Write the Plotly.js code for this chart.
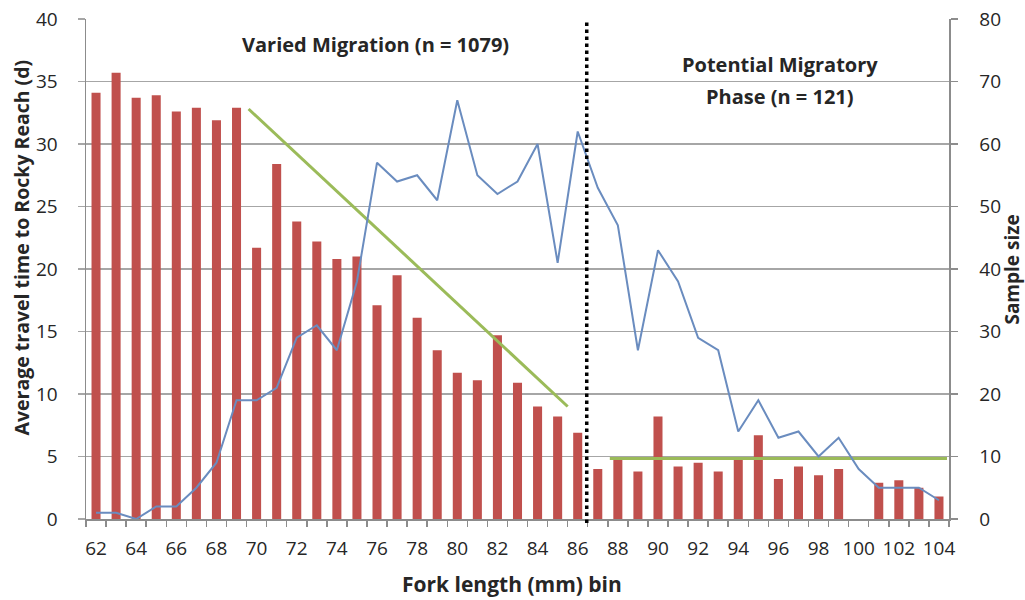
<!DOCTYPE html>
<html>
<head>
<meta charset="utf-8">
<script src="https://cdn.plot.ly/plotly-3.0.1.min.js"></script>
<style>html,body{margin:0;padding:0;background:#fff;}#chart{width:1025px;height:600px;}</style>
</head>
<body>
<div id="chart"></div>
<script>
const bins = [62,63,64,65,66,67,68,69,70,71,72,73,74,75,76,77,78,79,80,81,82,83,84,85,86,87,88,89,90,91,92,93,94,95,96,97,98,99,100,101,102,103,104];
const travelTime = [34.1,35.7,33.7,33.9,32.6,32.9,31.9,32.9,21.7,28.4,23.8,22.2,20.8,21.0,17.1,19.5,16.1,13.5,11.7,11.1,14.7,10.9,9.0,8.2,6.9,4.0,4.8,3.8,8.2,4.2,4.5,3.8,4.8,6.7,3.2,4.2,3.5,4.0,null,2.9,3.1,2.5,1.8];
const sampleSize = [1,1,0,2,2,5,9,19,19,21,29,31,27,38,57,54,55,51,67,55,52,54,60,41,62,53,47,27,43,38,29,27,14,19,13,14,10,13,8,5,5,5,3];
const trendVariedX = [69.6, 85.5];
const trendVariedY = [32.8, 9.0];
const trendPotentialX = [87.6, 104.4];
const trendPotentialY = [4.85, 4.85];
const dividerX = 86.45;
const xTickVals = [62,64,66,68,70,72,74,76,78,80,82,84,86,88,90,92,94,96,98,100,102,104];
const leftTicks = [0,5,10,15,20,25,30,35,40];
const rightTicks = [0,10,20,30,40,50,60,70,80];

const FONT = '"Open Sans", "DejaVu Sans", sans-serif';
const TXT = '#262626';

const traces = [
  {type:'bar', x:bins, y:travelTime, marker:{color:'#c0504d'}, width:0.45, yaxis:'y', hoverinfo:'skip'},
  {type:'scatter', mode:'lines', x:bins, y:sampleSize, yaxis:'y2', line:{color:'#6a8cbf', width:2}, hoverinfo:'skip'},
  {type:'scatter', mode:'lines', x:trendVariedX, y:trendVariedY, yaxis:'y', line:{color:'#9bbb59', width:3}, hoverinfo:'skip'},
  {type:'scatter', mode:'lines', x:trendPotentialX, y:trendPotentialY, yaxis:'y', line:{color:'#9bbb59', width:3}, hoverinfo:'skip'}
];

const ann = (o) => Object.assign({showarrow:false, xanchor:'center', yanchor:'middle'}, o);

const layout = {
  width:1025, height:600,
  margin:{l:86, r:76, t:19, b:81},
  paper_bgcolor:'#fff', plot_bgcolor:'#fff',
  showlegend:false,
  font:{family:FONT, color:TXT},
  xaxis:{
    range:[61.5,104.5], tickmode:'array', tickvals:xTickVals, ticktext:xTickVals.map(String),
    ticks:'', showgrid:false, zeroline:false,
    showline:true, linecolor:'#8c8c8c', linewidth:1.5,
    tickfont:{size:19, color:TXT}, ticklabelstandoff:12,
    minor:{tick0:61.5, dtick:1, ticks:'outside', ticklen:6, tickcolor:'#8c8c8c', tickwidth:1.5, showgrid:false}
  },
  yaxis:{
    range:[0,40], tickmode:'array', tickvals:leftTicks,
    showgrid:true, gridcolor:'#a6a6a6', gridwidth:1.5, zeroline:false,
    showline:true, linecolor:'#8c8c8c', linewidth:1.5,
    ticks:'outside', ticklen:7, tickcolor:'#a6a6a6', tickwidth:1.5,
    tickfont:{size:19, color:TXT}, ticklabelstandoff:16
  },
  yaxis2:{
    range:[0,80], overlaying:'y', side:'right', tickmode:'array', tickvals:rightTicks,
    showgrid:false, zeroline:false,
    showline:true, linecolor:'#8c8c8c', linewidth:1.5,
    ticks:'outside', ticklen:7, tickcolor:'#8c8c8c', tickwidth:1.5,
    tickfont:{size:19, color:TXT}, ticklabelstandoff:18
  },
  shapes:[
    {type:'line', xref:'x', yref:'paper', x0:dividerX, x1:dividerX, y0:-0.008, y1:0.994,
     line:{color:'#000', width:3.5, dash:'dot'}}
  ],
  annotations:[
    ann({xref:'x', yref:'paper', x:75.9, y:0.95, text:'<b>Varied Migration (n = 1079)</b>', font:{size:20, color:TXT}}),
    ann({xref:'x', yref:'paper', x:96.1, y:0.908, text:'<b>Potential Migratory</b>', font:{size:20, color:TXT}}),
    ann({xref:'x', yref:'paper', x:96.1, y:0.846, text:'<b>Phase (n = 121)</b>', font:{size:20, color:TXT}}),
    ann({xref:'paper', yref:'paper', x:-0.0742, y:0.543, textangle:-90, text:'<b>Average travel time to Rocky Reach (d)</b>', font:{size:19.5, color:TXT}}),
    ann({xref:'paper', yref:'paper', x:1.0725, y:0.498, textangle:-90, text:'<b>Sample size</b>', font:{size:19, color:TXT}}),
    ann({xref:'paper', yref:'paper', x:0.4936, y:-0.13, text:'<b>Fork length (mm) bin</b>', font:{size:21, color:TXT}})
  ]
};

Plotly.newPlot('chart', traces, layout, {displayModeBar:false, staticPlot:true});
</script>
</body>
</html>
